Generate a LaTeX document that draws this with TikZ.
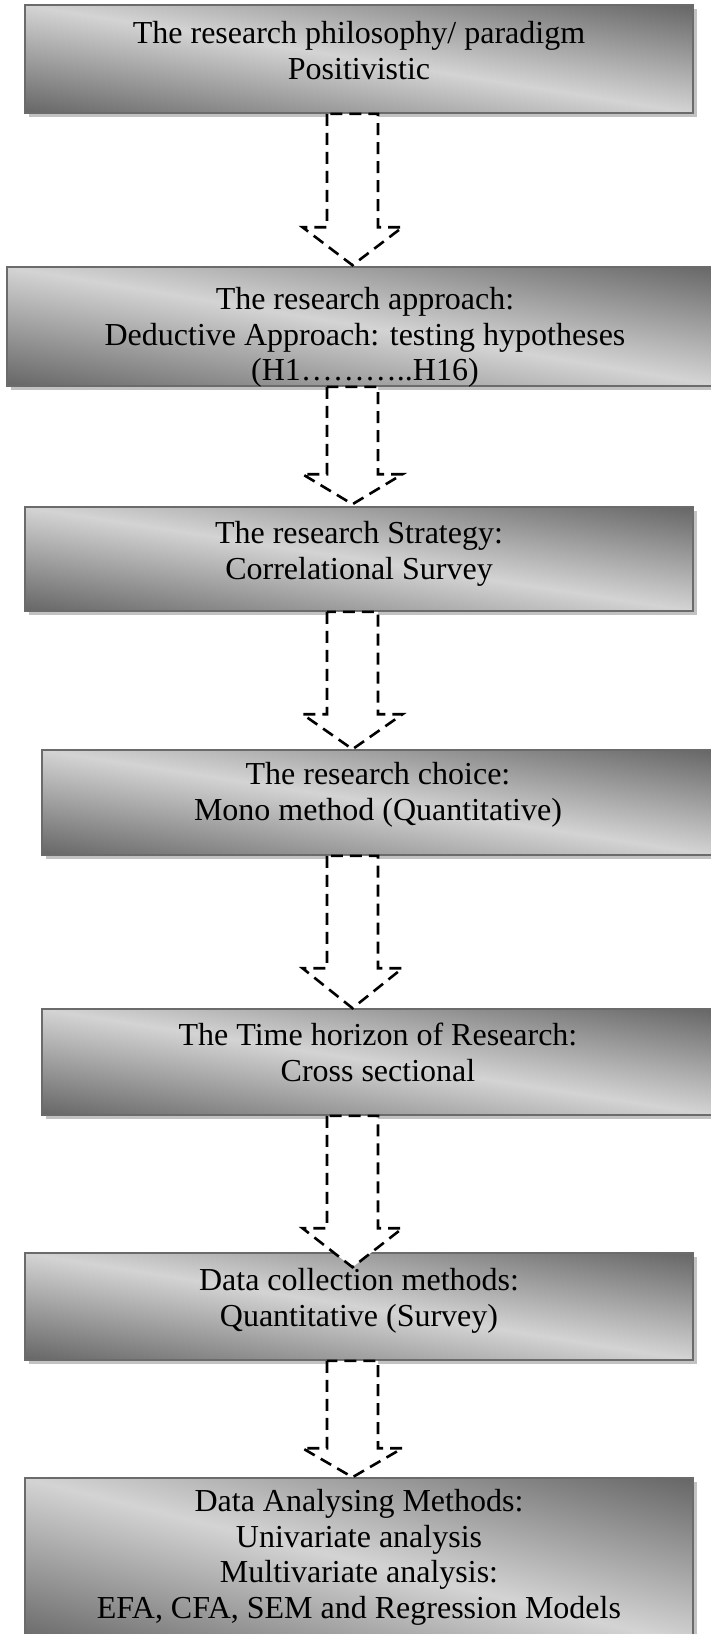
\documentclass[tikz,border=0pt]{standalone}
\usepackage{fontspec}
\setmainfont{Liberation Serif}
\usetikzlibrary{calc,shadows}

\definecolor{bordergray}{gray}{0.42}
\definecolor{shadowgray}{gray}{0.76}

% diagonal gradient: dark in the lower-left and upper-right corners,
% light along the diagonal from the upper-left to the lower-right corner
% (the shaded path covers the inner square 25bp..75bp of the shading)
\pgfdeclarefunctionalshading{diagband}{\pgfpointorigin}{\pgfpoint{100bp}{100bp}}{}{
  add 100 sub abs 50 div
  dup 1 gt {pop 1} if
  0.43 mul 0.83 exch sub
  dup dup
}

\tikzset{
  panel/.style={draw=bordergray, line width=1.6pt, inner sep=0pt,
    shade, shading=diagband, shading angle=0,
    drop shadow={shadow xshift=4pt, shadow yshift=-4pt, fill=shadowgray, opacity=1}},
  caption/.style={font=\fontsize{32}{35.5}\selectfont, align=center,
    anchor=north, inner sep=0pt},
  blockarrow/.style={draw=black, fill=white, line width=2.6pt,
    dash pattern=on 12pt off 7pt, line join=miter},
}

% dashed block arrow from the bottom of #1 to the top of #2,
% head height #3, tip pushed #4 below the top of #2
\newcommand\flowarrow[4]{%
  \coordinate (#1-top) at (ax |- #1.south);
  \coordinate (#1-tip) at ($(ax |- #2.north)+(0,#4)$);
  \coordinate (#1-base) at ($(#1-tip)+(0,-#3)$);
  \draw[blockarrow]
    ($(#1-top)+(-25.5,0)$) -- ($(#1-base)+(-25.5,0)$) -- ($(#1-base)+(-50,0)$)
    -- (#1-tip) -- ($(#1-base)+(50,0)$) -- ($(#1-base)+(25.5,0)$)
    -- ($(#1-top)+(25.5,0)$) -- cycle;
}

\begin{document}
\begin{tikzpicture}[x=1pt, y=-1pt]
  \clip (0,0) rectangle (711,1634);
  \fill[white] (0,0) rectangle (711,1634);
  \coordinate (ax) at (352.5,0);

  % stages
  \node[panel, minimum width=668pt, minimum height=108pt] (b1) at (359,59) {};
  \node[panel, minimum width=716pt, minimum height=119pt] (b2) at (365,326.5) {};
  \node[panel, minimum width=668pt, minimum height=104pt] (b3) at (359,559) {};
  \node[panel, minimum width=672pt, minimum height=105pt] (b4) at (378,802.5) {};
  \node[panel, minimum width=672pt, minimum height=106pt] (b5) at (378,1062) {};
  \node[panel, minimum width=668pt, minimum height=107pt] (b6) at (359,1306.5) {};
  \node[panel, minimum width=668pt, minimum height=167pt] (b7) at (359,1561.5) {};

  % stage texts
  \node[caption] (t1) at ($(b1.north)+(0,17)$)
    {The research philosophy/ paradigm\\Positivistic};
  \node[caption] (t2) at ($(b2.north)+(0,21)$)
    {The research approach:\\Deductive Approach: testing hypotheses\\(H1………..H16)};
  \node[caption] (t3) at ($(b3.north)+(0,15)$)
    {The research Strategy:\\Correlational Survey};
  \node[caption] (t4) at ($(b4.north)+(0,13)$)
    {The research choice:\\Mono method (Quantitative)};
  \node[caption] (t5) at ($(b5.north)+(0,15)$)
    {The Time horizon of Research:\\Cross sectional};
  \node[caption] (t6) at ($(b6.north)+(0,16)$)
    {Data collection methods:\\Quantitative (Survey)};
  \node[caption] (t7) at ($(b7.north)+(0,12)$)
    {Data Analysing Methods:\\Univariate analysis\\Multivariate analysis:\\EFA, CFA, SEM and Regression Models};

  % arrows between stages
  \flowarrow{b1}{b2}{38}{-1}
  \flowarrow{b2}{b3}{30}{-2}
  \flowarrow{b3}{b4}{35}{0}
  \flowarrow{b4}{b5}{40}{0}
  \flowarrow{b5}{b6}{39}{15}
  \flowarrow{b6}{b7}{29}{0}
\end{tikzpicture}
\end{document}
